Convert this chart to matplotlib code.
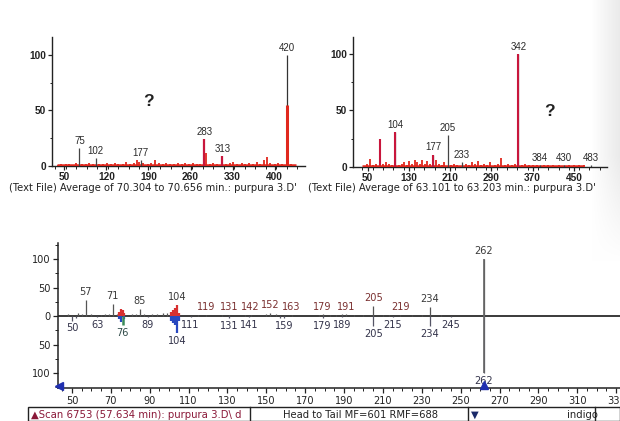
import numpy as np
import matplotlib
matplotlib.use("Agg")
import matplotlib.pyplot as plt
from matplotlib.ticker import FixedLocator, MultipleLocator, FuncFormatter
from matplotlib.patches import Rectangle

W, H = 620, 421

# ---- Spectrum A: average of 70.304 to 70.656 min ----
a_mz = [75, 102, 177, 283, 313, 420]
a_int = [16, 7, 5, 24, 9, 100]
a_noise_mz = [40, 45, 52, 58, 63, 69, 80, 86, 91, 97, 108, 115, 121, 128, 134, 140,
              147, 153, 160, 166, 171, 174, 181, 189, 195, 201, 207, 214, 220, 226,
              232, 239, 245, 251, 258, 264, 270, 276, 286, 292, 298, 304, 319, 326,
              331, 338, 345, 351, 357, 364, 370, 376, 383, 388, 393, 400, 406, 412, 427]
a_noise_int = [1, 2, 1.5, 2, 1, 3, 2, 1.5, 3, 2, 2, 1.5, 2.5, 1.5, 3, 2,
               1.5, 4, 2, 3, 5, 4, 3, 2, 3, 5, 2.5, 2, 3, 1.5,
               2, 3, 2, 2.5, 2, 3, 1.5, 2, 12, 2, 3, 2, 2, 3,
               4, 2, 3, 2, 3, 2, 4, 2, 5, 8, 3, 2, 3, 2, 2]

# ---- Spectrum B: average of 63.101 to 63.203 min ----
b_mz = [104, 177, 205, 233, 342, 384, 430, 483]
b_int = [31, 11, 28, 4, 100, 2, 2, 2]
b_noise_mz = [48, 55, 60, 66, 75, 80, 86, 92, 97, 110, 116, 121, 126, 131, 136, 141,
              146, 151, 156, 161, 166, 171, 182, 188, 194, 199, 212, 218, 224, 240,
              246, 252, 258, 264, 270, 276, 282, 288, 296, 302, 308, 316, 322, 330,
              336, 350, 356, 362, 370, 378, 392, 400, 410, 420, 440, 450, 460, 470]
b_noise_int = [3, 7, 2, 3, 25, 3, 4, 3, 2, 2, 3, 4, 2, 5, 3, 6,
               4, 3, 6, 3, 5, 3, 6, 3, 2, 4, 2, 3, 2, 3,
               2, 4, 3, 5, 2, 3, 2, 4, 2, 3, 8, 2, 3, 2,
               3, 2, 3, 2, 2, 1.5, 1.5, 1.5, 1.5, 1.5, 1.5, 1.5, 1.5, 1.5]

# ---- Head to tail comparison (scan 6753 vs. indigo) ----
head_mz = [48, 53, 55, 57, 60, 65, 67, 69, 71, 73, 81, 83, 85, 87, 91, 94,
           97, 99, 115, 119, 127, 131, 139, 142, 150, 152, 155, 163, 177, 179,
           183, 186, 189, 191, 195, 200, 205, 210, 213, 219, 225, 230, 234, 240, 262]
head_int = [3, 5, 4, 28, 3, 2, 3, 4, 22, 3, 3, 4, 12, 4, 3, 4,
            6, 5, 2, 2, 2, 2, 2, 2, 3, 6, 3, 2, 2, 3,
            2, 2, 3, 3, 2, 2, 18, 2, 2, 2, 2, 2, 16, 2, 100]
head_hot_mz = [74, 75, 76, 77, 101, 102, 103, 104, 105]
head_hot_int = [8, 12, 10, 5, 8, 10, 14, 20, 6]

tail_mz = [50, 52, 63, 89, 111, 131, 141, 157, 159, 179, 189, 205, 215, 234, 245, 262]
tail_int = [-8, -4, -2, -2, -2, -3, -2, -3, -4, -3, -2, -18, -2, -18, -2, -100]
tail_hot_mz = [74, 75, 77, 101, 102, 103, 104, 105]
tail_hot_int = [-6, -10, -6, -8, -12, -16, -30, -8]
tail_green_mz = [76]
tail_green_int = [-16]

head_labels = [57, 71, 85, 104, 119, 131, 142, 152, 163, 179, 191, 205, 219, 234, 262]
tail_labels = [50, 63, 76, 89, 104, 111, 131, 141, 159, 179, 189, 205, 215, 234, 245, 262]


def peak_height(mz, xs, ys):
    vals = [y for x, y in zip(xs, ys) if x == mz]
    return vals[0] if vals else 0


RED = "#e0281e"
CRIMSON = "#c8163c"

fig = plt.figure(figsize=(W / 100, H / 100), dpi=100)
fig.patch.set_facecolor("white")

# faint grey shading along the right edge of the page
bg = fig.add_axes([0, 0, 1, 1], zorder=-5)
bg.set_axis_off()
gx = np.linspace(0, 1, W)
gy = np.linspace(0, 1, H)
shade = np.clip((gx[None, :] - 0.955) / 0.045, 0, 1) * np.clip((0.62 - gy[:, None]) / 0.25, 0, 1)
img = np.ones((H, W, 3)) - 0.08 * shade[..., None]
bg.imshow(img, extent=[0, 1, 0, 1], aspect="auto")


def px_axes(x0, y0, x1, y1):
    return fig.add_axes([x0 / W, 1 - y1 / H, (x1 - x0) / W, (y1 - y0) / H])


def style_top(ax, xticks, xminor):
    for s in ("top", "right"):
        ax.spines[s].set_visible(False)
    for s in ("left", "bottom"):
        ax.spines[s].set_linewidth(1.0)
        ax.spines[s].set_color("#222222")
    ax.set_yticks([0, 50, 100])
    ax.yaxis.set_minor_locator(FixedLocator([25, 75]))
    ax.set_xticks(xticks)
    ax.xaxis.set_minor_locator(MultipleLocator(xminor))
    ax.tick_params(which="major", length=3, width=0.9, pad=1.0, labelsize=7.3,
                   colors="#222222")
    ax.tick_params(which="minor", length=1.8, width=0.7, colors="#222222")
    for lab in ax.get_xticklabels() + ax.get_yticklabels():
        lab.set_fontfamily("Liberation Sans")
        lab.set_fontweight("bold")
    ax.set_facecolor("none")


font_top = dict(family="Liberation Sans", fontsize=7, color="#2a2a2a")

# Spectrum A
ax1 = px_axes(52, 37, 305, 166)
ax1.set_xlim(29.2, 450.8)
ax1.set_ylim(0, 116)
style_top(ax1, [50, 120, 190, 260, 330, 400], 17.5)
ax1.vlines(a_noise_mz, 0, a_noise_int, colors=RED, lw=1.3, zorder=3)
ax1.hlines(0.6, 38, 436, colors=RED, lw=1.8, zorder=3)
ax1.vlines(a_mz[:3], 0, a_int[:3], colors="#444444", lw=0.9, zorder=3)
ax1.vlines([283, 313], 0, [24, 9], colors=CRIMSON, lw=1.6, zorder=3)
ax1.vlines(420, 0, 100, colors="#333333", lw=0.9, zorder=3)
ax1.vlines(421, 0, 55, colors=RED, lw=2.2, zorder=3)
for m, h in zip(a_mz, a_int):
    ax1.annotate(str(m), (m, h), xytext=(0, 1.5), textcoords="offset points",
                 ha="center", va="bottom", **font_top)
fig.text(148 / W, 1 - 102 / H, "?", ha="center", va="center", fontsize=12.5,
         fontweight="bold", family="Liberation Sans", color="#222222")

# Spectrum B
ax2 = px_axes(353, 37, 607, 167)
ax2.set_xlim(21.7, 514)
ax2.set_ylim(0, 115)
style_top(ax2, [50, 130, 210, 290, 370, 450], 20)
ax2.vlines(b_noise_mz, 0, b_noise_int, colors=RED, lw=1.3, zorder=3)
ax2.vlines([75], 0, [25], colors=CRIMSON, lw=1.5, zorder=3)
ax2.hlines(0.6, 40, 470, colors=RED, lw=1.8, zorder=3)
ax2.vlines(b_mz, 0, b_int, colors="#444444", lw=0.9, zorder=3)
ax2.vlines([104, 177, 342], 0, [31, 11, 100], colors=CRIMSON, lw=1.5, zorder=3)
for m, h in zip(b_mz, b_int):
    ax2.annotate(str(m), (m, h), xytext=(0, 1.5), textcoords="offset points",
                 ha="center", va="bottom", **font_top)
fig.text(549 / W, 1 - 112 / H, "?", ha="center", va="center", fontsize=12.5,
         fontweight="bold", family="Liberation Sans", color="#222222")

cap = dict(family="DejaVu Sans", fontsize=7.2, color="#222222",
           ha="center", va="center")
fig.text(153 / W, 1 - 188 / H,
         "(Text File) Average of 70.304 to 70.656 min.: purpura 3.D'", **cap)
fig.text(452 / W, 1 - 188 / H,
         "(Text File) Average of 63.101 to 63.203 min.: purpura 3.D'", **cap)

# Head to tail comparison
ax3 = px_axes(58, 243, 620, 388)
ax3.set_xlim(42.8, 332)
ax3.set_ylim(-126, 128)
ax3.set_facecolor("none")
for s in ("top", "right"):
    ax3.spines[s].set_visible(False)
for s in ("left", "bottom"):
    ax3.spines[s].set_linewidth(1.1)
    ax3.spines[s].set_color("#222222")
ax3.set_yticks([-100, -50, 0, 50, 100])
ax3.yaxis.set_major_formatter(FuncFormatter(lambda v, p: f"{abs(v):.0f}"))
ax3.yaxis.set_minor_locator(MultipleLocator(25))
ax3.set_xticks(np.arange(50, 331, 20))
ax3.xaxis.set_minor_locator(MultipleLocator(5))
ax3.tick_params(which="major", length=3.5, width=0.9, pad=2, labelsize=7.8,
                colors="#222222")
ax3.tick_params(which="minor", length=2, width=0.7, colors="#222222")
for lab in ax3.get_xticklabels() + ax3.get_yticklabels():
    lab.set_fontfamily("DejaVu Sans")
    lab.set_fontstretch("condensed")

ax3.axhline(0, color="#3a3a3a", lw=1.4, zorder=2)
ax3.vlines(head_mz, 0, head_int, colors="#555555", lw=0.9, zorder=3)
ax3.vlines(tail_mz, 0, tail_int, colors="#555566", lw=0.9, zorder=3)
ax3.vlines(head_hot_mz, 0, head_hot_int, colors="#d83030", lw=1.6, zorder=3)
ax3.vlines(tail_hot_mz, 0, tail_hot_int, colors="#2848c0", lw=1.6, zorder=3)
ax3.vlines(tail_green_mz, 0, tail_green_int, colors="#3a8a5a", lw=1.8, zorder=3)
ax3.vlines(262, -100, 100, colors="#666666", lw=1.2, zorder=3)

lab_font = dict(family="DejaVu Sans", fontsize=7.8, fontstretch="condensed")
all_head_mz = head_mz + head_hot_mz
all_head_int = head_int + head_hot_int
all_tail_mz = tail_mz + tail_hot_mz + tail_green_mz
all_tail_int = tail_int + tail_hot_int + tail_green_int
for m in head_labels:
    h = max(peak_height(m, all_head_mz, all_head_int), 2)
    col = "#7a3030" if 110 < m < 225 else "#3a3a3a"
    ax3.annotate(str(m), (m, h), xytext=(0, 2), textcoords="offset points",
                 ha="center", va="bottom", color=col, **lab_font)
for m in tail_labels:
    h = min(peak_height(m, all_tail_mz, all_tail_int), -2)
    col = "#2f4a48" if m == 76 else "#33334a"
    ax3.annotate(str(m), (m, h), xytext=(0, -2), textcoords="offset points",
                 ha="center", va="top", color=col, **lab_font)

# Markers on the axes
ax3.plot([43.5], [-123], marker="<", ms=6, color="#2030b0", clip_on=False, zorder=5)
ax3.plot([262], [-121], marker="^", ms=5.5, color="#2030b0", clip_on=False, zorder=5)

# Status bar
bar_y0, bar_y1 = 407, 421
fig.patches.append(Rectangle((28 / W, 1 - bar_y1 / H), (620 - 28) / W,
                             (bar_y1 - bar_y0) / H, transform=fig.transFigure,
                             fill=False, ec="#222222", lw=1.0))
for xs in (250, 468, 595):
    fig.add_artist(plt.Line2D([xs / W, xs / W], [1 - bar_y1 / H, 1 - bar_y0 / H],
                              transform=fig.transFigure, color="#222222", lw=1.0))
bar_font = dict(family="DejaVu Sans", va="center")
fig.text(31 / W, 1 - 414.5 / H, "▲Scan 6753 (57.634 min): purpura 3.D\\ d",
         color="#8a1838", ha="left", fontsize=7.3, **bar_font)
fig.text(283 / W, 1 - 414.5 / H, "Head to Tail MF=601 RMF=688",
         color="#222222", ha="left", fontsize=7.2, **bar_font)
fig.text(475 / W, 1 - 414.5 / H, "▼", color="#1a2a6a", ha="center",
         fontsize=7.2, **bar_font)
fig.text(567 / W, 1 - 414.5 / H, "indigo", color="#222222", ha="left",
         fontsize=7.2, **bar_font)

fig.savefig("out.png", dpi=100, facecolor="white")
